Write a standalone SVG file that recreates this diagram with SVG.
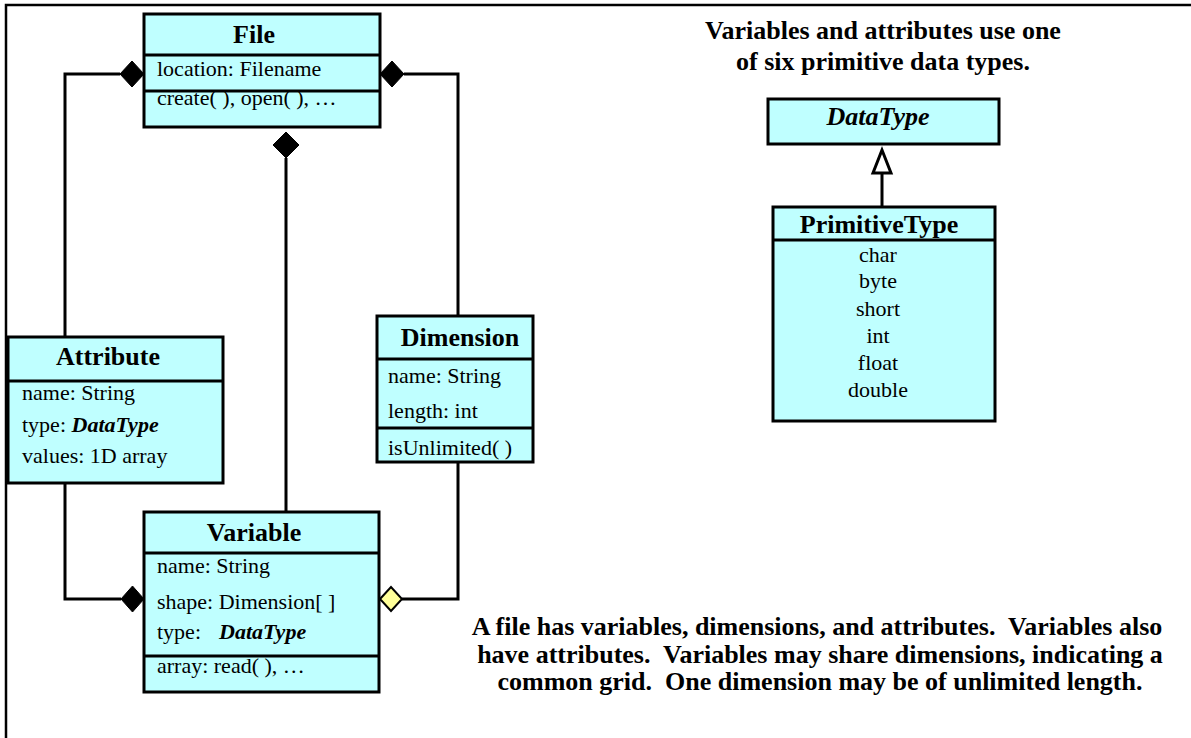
<svg xmlns="http://www.w3.org/2000/svg" width="1191" height="738" viewBox="0 0 1191 738">
<style>
text{font-family:"Liberation Serif","Times New Roman",serif;fill:#000}
.box{fill:#BFFFFF;stroke:#000;stroke-width:3}
.div{stroke:#000;stroke-width:3}
.t{font-size:26px;font-weight:bold;text-anchor:middle}
.a{font-size:22px}
.c{font-size:22px;text-anchor:middle}
.bi{font-weight:bold;font-style:italic}
.note{font-size:26px;font-weight:bold;text-anchor:middle;white-space:pre}
.con{fill:none;stroke:#000;stroke-width:3}
.dia{fill:#000;stroke:#000;stroke-width:1}
</style>
<rect width="1191" height="738" fill="#fff"/>
<path d="M6,738 V5 H1191" fill="none" stroke="#000" stroke-width="2.5"/>

<g id="connectors">
<polyline class="con" points="120,74 65,74 65,337"/>
<polygon class="dia" points="144,74 132,61 120,74 132,87"/>
<polyline class="con" points="404,74 458,74 458,316"/>
<polygon class="dia" points="380,74 392,61 404,74 392,87"/>
<line class="con" x1="286" y1="158" x2="286" y2="512"/>
<polygon class="dia" points="286,132 299,145 286,158 273,145"/>
<polyline class="con" points="65,483 65,599 121,599"/>
<polygon class="dia" points="144,599 132.5,586 121,599 132.5,612"/>
<polyline class="con" points="458,462 458,599 402,599"/>
<polygon points="380,599 391,587 402,599 391,611" fill="#FFFF99" stroke="#000" stroke-width="2"/>
<line class="con" x1="882" y1="207" x2="882" y2="173"/>
<polygon points="882,150 873,173 891,173" fill="#fff" stroke="#000" stroke-width="3"/>
</g>

<g id="File">
<rect class="box" x="144" y="14" width="236" height="113"/>
<line class="div" x1="144" y1="55" x2="380" y2="55"/>
<line class="div" x1="144" y1="91" x2="380" y2="91"/>
<text class="t" x="254" y="43">File</text>
<text class="a" x="157" y="76">location: Filename</text>
<text class="a" x="157" y="105">create( ), open( ), …</text>
</g>

<g id="Attribute">
<rect class="box" x="8" y="337" width="215" height="146"/>
<line class="div" x1="8" y1="381" x2="223" y2="381"/>
<text class="t" x="108" y="365">Attribute</text>
<text class="a" x="22" y="400">name: String</text>
<text class="a" x="22" y="432">type: <tspan class="bi">DataType</tspan></text>
<text class="a" x="22" y="463">values: 1D array</text>
</g>

<g id="Dimension">
<rect class="box" x="377" y="316" width="156" height="146"/>
<line class="div" x1="377" y1="359" x2="533" y2="359"/>
<line class="div" x1="377" y1="428" x2="533" y2="428"/>
<text class="t" x="460" y="346">Dimension</text>
<text class="a" x="388" y="383">name: String</text>
<text class="a" x="388" y="418">length: int</text>
<text class="a" x="388" y="455">isUnlimited( )</text>
</g>

<g id="Variable">
<rect class="box" x="144" y="512" width="235" height="180"/>
<line class="div" x1="144" y1="553" x2="379" y2="553"/>
<line class="div" x1="144" y1="656" x2="379" y2="656"/>
<text class="t" x="254" y="541">Variable</text>
<text class="a" x="157" y="573">name: String</text>
<text class="a" x="157" y="609">shape: Dimension[ ]</text>
<text class="a" x="157" y="639">type:<tspan class="bi" x="219">DataType</tspan></text>
<text class="a" x="157" y="673">array: read( ), …</text>
</g>

<g id="DataType">
<rect class="box" x="768" y="99" width="231" height="45"/>
<text class="t bi" x="878" y="125">DataType</text>
</g>

<g id="PrimitiveType">
<rect class="box" x="773" y="207" width="222" height="214"/>
<line class="div" x1="773" y1="240" x2="995" y2="240"/>
<text class="t" x="879" y="233">PrimitiveType</text>
<text class="c" x="878" y="262">char</text>
<text class="c" x="878" y="288">byte</text>
<text class="c" x="878" y="316">short</text>
<text class="c" x="878" y="343">int</text>
<text class="c" x="878" y="370">float</text>
<text class="c" x="878" y="397">double</text>
</g>

<g id="notes">
<text class="note" x="883" y="39">Variables and attributes use one</text>
<text class="note" x="883" y="70">of six primitive data types.</text>
<text class="note" x="817" y="635">A file has variables, dimensions, and attributes.  Variables also</text>
<text class="note" x="820" y="663">have attributes.  Variables may share dimensions, indicating a</text>
<text class="note" x="820" y="690">common grid.  One dimension may be of unlimited length.</text>
</g>
</svg>
